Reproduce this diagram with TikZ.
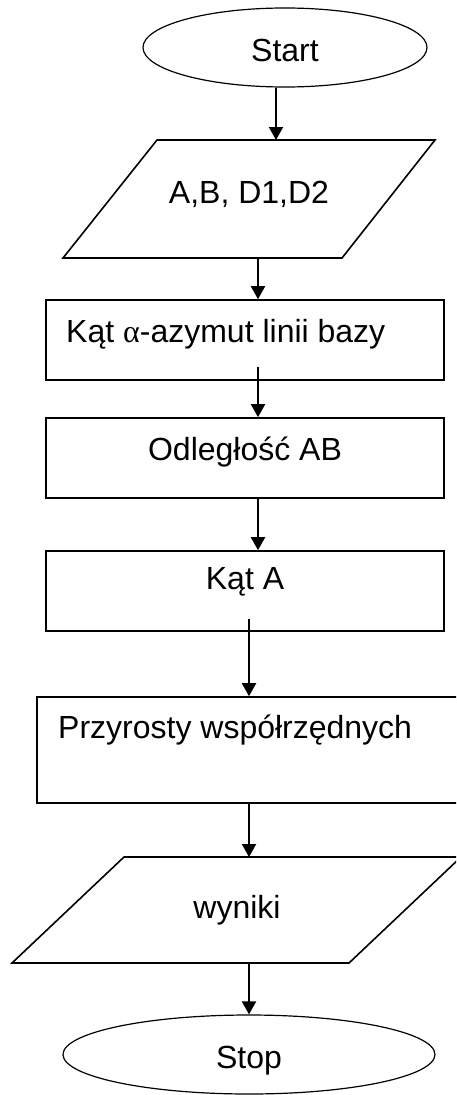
\documentclass[tikz,border=0pt]{standalone}
\usepackage{fontspec}
\setmainfont{Liberation Sans}
\newfontfamily\grecka{Liberation Serif}
\usetikzlibrary{shapes.geometric, arrows.meta, calc}

\begin{document}
\begin{tikzpicture}[x=1pt, y=-1pt, font=\fontsize{32}{38}\selectfont,
    krok/.style={-{Triangle[length=13pt, width=14pt]}, line width=2pt},
    owal/.style={draw, ellipse, line width=1.2pt, inner sep=0pt},
    blok/.style={draw, rectangle, line width=1.6pt, inner sep=0pt},
    opis/.style={inner sep=0pt}]
    \useasboundingbox (0,0) rectangle (456,1095);
    \clip (0,0) rectangle (456,1095);
    \coordinate (os1) at (258,0);
    \coordinate (os2) at (249,0);
    \node[owal, minimum width=284pt, minimum height=79pt](start) at (285,47.5){};
    \node[opis, anchor=base](tstart) at (285,61){Start};
    \draw[line width=1.6pt](157,140) coordinate(daneG)--(435,140)--(342,258)--(63,258) coordinate(daneD)--cycle;
    \node[opis, anchor=base](tdane) at (249,203){A,B, D1,D2};
    \node[blok, minimum width=398pt, minimum height=80pt](azymut) at (245,340){};
    \node[opis, anchor=base west](tazymut) at (66,342){Kąt {\grecka α}-azymut linii bazy};
    \node[blok, minimum width=398pt, minimum height=80pt](odl) at (245,458){};
    \node[opis, anchor=base](todl) at (245,460){Odległość AB};
    \node[blok, minimum width=398pt, minimum height=80pt](katA) at (245,591){};
    \node[opis, anchor=base](tkatA) at (245,589){Kąt A};
    \node[blok, minimum width=433pt, minimum height=106pt](przyr) at (253.5,750){};
    \node[opis, anchor=base west](tprzyr) at (58,738){Przyrosty współrzędnych};
    \draw[line width=1.6pt](124,857) coordinate(wynG)--(461,857)--(349,963)--(12,963) coordinate(wynD)--cycle;
    \node[opis, anchor=base](twyn) at (237,918){wyniki};
    \node[owal, minimum width=372pt, minimum height=79pt](stop) at (249,1054.5){};
    \node[opis, anchor=base](tstop) at (249,1068){Stop};
    \draw[krok]([xshift=-9pt]start.south)--($(daneG)+(119,0)$);
    \draw[krok](daneD -| os1)--(azymut.north -| os1);
    \draw[krok]($(azymut.south -| os1)+(0,-14)$)--(odl.north -| os1);
    \draw[krok](odl.south -| os1)--(katA.north -| os1);
    \draw[krok]($(katA.south -| os2)+(0,-13)$)--(przyr.north -| os2);
    \draw[krok](przyr.south -| os2)--(wynG -| os2);
    \draw[krok](wynD -| os2)--(stop.north);
\end{tikzpicture}
\end{document}
